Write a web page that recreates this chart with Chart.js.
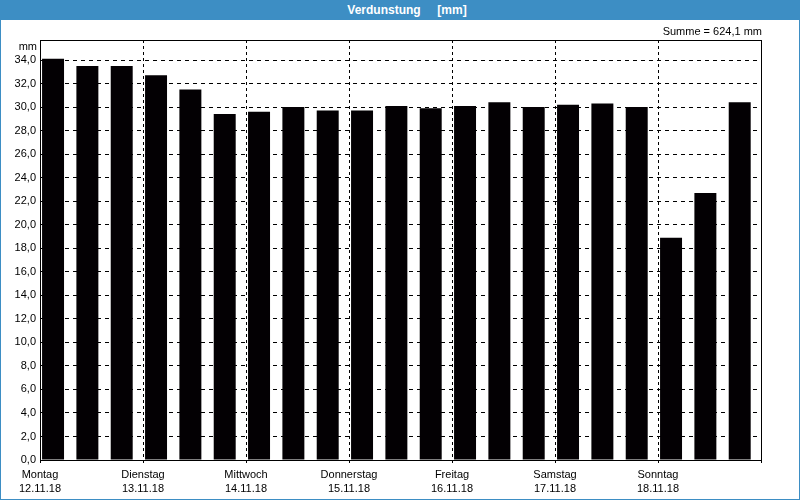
<!DOCTYPE html>
<html lang="de">
<head>
<meta charset="UTF-8">
<title>Verdunstung</title>
<script src="https://cdn.jsdelivr.net/npm/chart.js"></script>
<style>
  body { margin: 0; background: #fff; font-family: "Liberation Sans", Arial, sans-serif; }
  #frame { width: 800px; height: 500px; box-sizing: border-box; border: 1px solid #3d8ec4; border-top: none; }
  #head { height: 20px; line-height: 20px; background: #3d8ec4; color: #fff; font-weight: bold; font-size: 12px; text-align: center; white-space: pre; padding-left: 14px; }
</style>
</head>
<body>
<div id="frame">
  <div id="head">Verdunstung     [mm]</div>
  <canvas id="chart" width="798" height="479"></canvas>
</div>
<script>
// Tage und Datum (Beschriftung der x-Achse)
const days = ['Montag', 'Dienstag', 'Mittwoch', 'Donnerstag', 'Freitag', 'Samstag', 'Sonntag'];
const dates = ['12.11.18', '13.11.18', '14.11.18', '15.11.18', '16.11.18', '17.11.18', '18.11.18'];
// drei Werte pro Tag
const slots = ['1', '2', '3'];
// Verdunstung in mm
const values = [
  34.1, 33.5, 33.5,
  32.7, 31.5, 29.4,
  29.6, 30.0, 29.7,
  29.7, 30.1, 29.9,
  30.1, 30.4, 30.0,
  30.2, 30.3, 30.0,
  18.9, 22.7, 30.4
];
const yMax = 35.7;
const yStep = 2;
const yLastTick = 34;
const sumText = 'Summe = 624,1 mm';
const unitText = 'mm';

const barLabels = days.flatMap(d => slots.map(s => d + ' ' + s));
const font = { family: '"Liberation Sans", Arial, sans-serif', size: 11 };

// Rahmen, Texte und Balken links im Slot
const frameAndNotes = {
  id: 'frameAndNotes',
  afterDatasetsUpdate(chart) {
    const xs = chart.scales.x;
    const slot = xs.width / barLabels.length;
    chart.getDatasetMeta(0).data.forEach(bar => { bar.x -= slot * 0.12; });
  },
  afterDraw(chart) {
    const { ctx, chartArea: a } = chart;
    ctx.save();
    ctx.strokeStyle = '#000';
    ctx.lineWidth = 1;
    ctx.strokeRect(Math.round(a.left) + 0.5, Math.round(a.top) + 0.5,
      Math.round(a.right - a.left), Math.round(a.bottom - a.top));
    ctx.fillStyle = '#000';
    ctx.font = '11px "Liberation Sans", Arial, sans-serif';
    ctx.textAlign = 'right';
    ctx.textBaseline = 'middle';
    ctx.fillText(unitText, a.left - 3, a.top + 7);
    ctx.fillText(sumText, a.right + 1, a.top - 8);
    ctx.restore();
  }
};

new Chart(document.getElementById('chart'), {
  type: 'bar',
  data: {
    labels: barLabels,
    datasets: [{
      data: values,
      backgroundColor: '#030003',
      borderWidth: 0,
      categoryPercentage: 1,
      barPercentage: 0.64
    }]
  },
  options: {
    responsive: false,
    animation: false,
    events: [],
    layout: { padding: { top: 20, right: 38, left: 0, bottom: 0 } },
    plugins: {
      legend: { display: false },
      tooltip: { enabled: false }
    },
    scales: {
      x: {
        type: 'category',
        display: false,
        offset: true
      },
      days: {
        type: 'linear',
        position: 'bottom',
        min: 0,
        max: days.length,
        offset: false,
        afterFit: s => { s.height = 39; },
        ticks: {
          stepSize: 1,
          autoSkip: false,
          maxRotation: 0,
          padding: 5,
          color: '#000',
          font: { ...font, lineHeight: 1.3 },
          callback: v => v < days.length ? [days[v], dates[v]] : ''
        },
        grid: { offset: false, color: '#000', lineWidth: 1, tickLength: 3, tickColor: '#000', tickBorderDash: [] },
        border: { display: true, color: '#000', width: 1, dash: [3, 3] }
      },
      y: {
        min: 0,
        max: yMax,
        afterFit: s => { s.width = 39; },
        afterBuildTicks: s => { s.ticks = s.ticks.filter(t => t.value <= yLastTick); },
        ticks: {
          stepSize: yStep,
          padding: 4,
          color: '#000',
          font: font,
          callback: v => v.toFixed(1).replace('.', ',')
        },
        grid: { color: '#000', lineWidth: 1, drawTicks: false },
        border: { display: true, color: '#000', width: 1, dash: [4, 4] }
      }
    }
  },
  plugins: [frameAndNotes]
});
</script>
</body>
</html>
